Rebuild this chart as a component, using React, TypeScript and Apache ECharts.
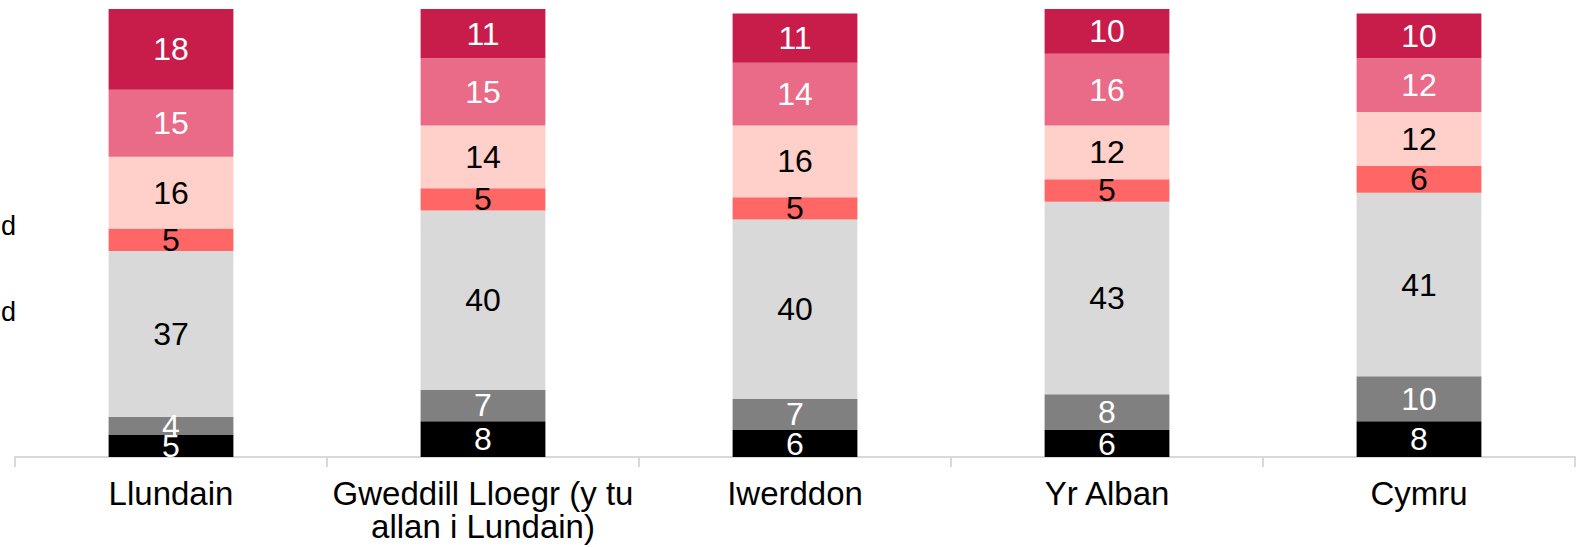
import React, { useEffect, useRef } from "react";
import * as echarts from "echarts";

const categories = [
  "Llundain",
  "Gweddill Lloegr (y tu\nallan i Lundain)",
  "Iwerddon",
  "Yr Alban",
  "Cymru",
];

const seriesNames = ["Cyfres 1", "Cyfres 2", "Cyfres 3", "Cyfres 4", "Cyfres 5", "Cyfres 6", "Cyfres 7"];
const s1 = [5, 8, 6, 6, 8];
const s2 = [4, 7, 7, 8, 10];
const s3 = [37, 40, 40, 43, 41];
const s4 = [5, 5, 5, 5, 6];
const s5 = [16, 14, 16, 12, 12];
const s6 = [15, 15, 14, 16, 12];
const s7 = [18, 11, 11, 10, 10];
const seriesData = [s1, s2, s3, s4, s5, s6, s7];

const colors = ["#000000", "#808080", "#D9D9D9", "#FF6666", "#FFCFC9", "#E96B88", "#C81D4A"];
const labelColors = ["#FFFFFF", "#FFFFFF", "#000000", "#000000", "#000000", "#FFFFFF", "#FFFFFF"];

const FONT = "Liberation Sans, Arial, sans-serif";

export default function App() {
  const ref = useRef<HTMLDivElement>(null);
  useEffect(() => {
    if (!ref.current) return;
    const chart = echarts.init(ref.current, null, { renderer: "svg" });
    chart.setOption({
      animation: false,
      grid: { left: 15, right: 10, top: 9, bottom: 90, containLabel: false },
      xAxis: {
        type: "category",
        data: categories,
        axisLine: { show: true, lineStyle: { color: "#D9D9D9", width: 2 } },
        axisTick: { show: true, length: 10, lineStyle: { color: "#D9D9D9", width: 2 } },
        axisLabel: {
          color: "#000000",
          fontFamily: FONT,
          fontSize: 33,
          lineHeight: 33,
          margin: 20,
          interval: 0,
        },
      },
      yAxis: {
        type: "value",
        min: 0,
        max: 100,
        show: false,
        splitLine: { show: false },
      },
      graphic: [
        { type: "text", x: 16, y: 212, style: { text: "d", fontSize: 27, fontFamily: FONT, fill: "#000", textAlign: "right" } },
        { type: "text", x: 16, y: 298, style: { text: "d", fontSize: 27, fontFamily: FONT, fill: "#000", textAlign: "right" } },
      ],
      series: seriesData.map((d, i) => ({
        name: seriesNames[i],
        type: "bar",
        stack: "total",
        data: d,
        barWidth: "40%",
        itemStyle: { color: colors[i] },
        label: {
          show: true,
          position: "inside",
          color: labelColors[i],
          fontSize: 32,
          fontFamily: FONT,
        },
      })),
    });
    return () => chart.dispose();
  }, []);
  return (
    <div
      ref={ref}
      style={{ position: "fixed", left: 0, top: 0, width: 1585, height: 547, background: "#fff" }}
    />
  );
}
